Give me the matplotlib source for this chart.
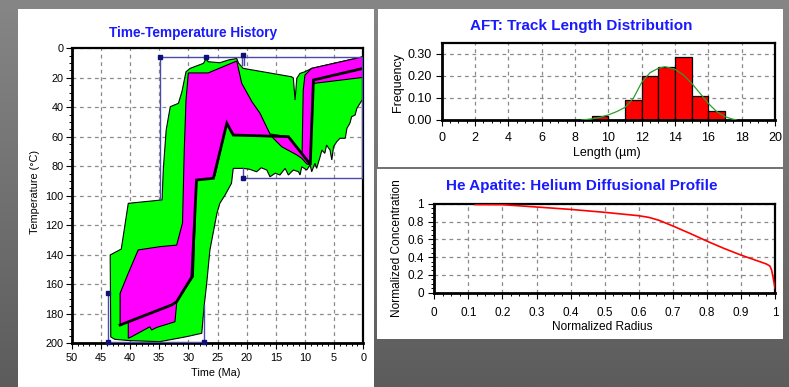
import numpy as np
import matplotlib
matplotlib.use("Agg")
import matplotlib.pyplot as plt
from matplotlib.patches import Polygon, Rectangle
from matplotlib.colors import LinearSegmentedColormap
from matplotlib.ticker import MultipleLocator, FormatStrFormatter, FuncFormatter

plt.rcParams['font.family'] = ['Liberation Sans', 'DejaVu Sans']

# ---------------- data ----------------
# Time-temperature envelopes: (time Ma, temperature degC) vertices
ACCEPTABLE_T = [43.3, 43.4, 41.5, 40.3, 34.5, 34.3, 33.8, 33.1, 31.7, 31.1, 30.4, 29.7,
                27.4, 27.0, 26.6, 24.6, 23.1, 21.7, 21.4, 20.6, 12.3, 12.0, 11.7, 11.4,
                10.85, 10.0, 8.85, 0.0, 0.0, 0.56, 1.1, 1.4, 2.0, 2.3, 2.8, 3.1, 4.0,
                4.55, 5.1, 5.4, 5.7, 6.3, 6.6, 7.1, 7.4, 8.0, 8.3, 8.85, 9.1, 9.7, 10.55,
                10.85, 11.1, 12.0, 12.85, 13.4, 14.3, 15.1, 16.0, 16.55, 17.5, 18.3, 19.5,
                20.6, 22.3, 22.6, 23.7, 24.6, 25.1, 26.3, 26.85, 27.3, 27.7, 30.3, 34.9,
                40.0, 42.6]
ACCEPTABLE_TEMP = [195.7, 140.1, 136.1, 105.1, 102.8, 82.5, 55.4, 39.6, 37.3, 29.4, 15.9, 13.6,
                   10.2, 7.2, 9.1, 9.8, 7.9, 6.9, 10.0, 13.6, 19.3, 20.1, 35.1, 20.3,
                   17.0, 15.9, 13.6, 5.7, 33.9, 37.3, 40.7, 45.2, 46.4, 50.8, 54.2, 61.0, 61.0,
                   63.3, 66.7, 75.7, 69.0, 65.6, 71.2, 69.0, 73.5, 81.4, 78.0, 83.7, 79.1, 82.5, 80.3,
                   85.9, 83.7, 82.5, 85.9, 81.4, 85.9, 84.7, 87.1, 82.5, 81.0, 83.7, 82.0,
                   81.4, 81.4, 91.5, 99.5, 105.1, 111.9, 136.7, 159.3, 175.2, 193.2, 195.5, 198.9,
                   198.2, 197.3]

GOOD_T = [41.7, 41.7, 40.3, 38.6, 34.9, 32.0, 31.0, 30.7, 30.4, 30.0, 26.6, 21.7,
          20.85, 19.1, 17.7, 16.0, 12.85, 10.5, 10.3, 10.0, 8.85, 0.0, 0.0, 8.3, 8.55,
          9.1, 9.7, 10.55, 11.4, 14.0, 15.8, 22.0, 22.6, 23.4, 25.4, 25.7, 28.6, 29.15,
          32.0, 32.0, 32.3, 35.4, 36.3, 36.6, 39.7, 40.3, 40.3]
GOOD_TEMP = [187.6, 166.1, 152.5, 136.7, 134.5, 133.4, 118.4, 69.0, 35.1, 16.7, 16.7, 8.6,
             23.7, 36.2, 44.1, 58.1, 59.9, 71.7, 28.3, 18.1, 13.6, 5.7, 19.7, 23.7, 23.7,
             79.1, 78.4, 74.6, 72.3, 66.7, 59.5, 58.8, 57.6, 50.8, 85.9, 88.1, 89.3, 154.9,
             171.8, 172.9, 185.4, 189.2, 191.0, 188.8, 195.5, 196.6, 185.6]

BEST_T = [41.7, 32.85, 32.0, 29.4, 28.6, 25.7, 23.4, 22.3, 12.85, 9.4, 9.1, 8.55, 0.0]
BEST_TEMP = [187.6, 174.0, 171.8, 154.9, 89.3, 88.1, 50.8, 58.8, 59.9, 77.1, 79.1, 21.5, 13.6]

# Constraint boxes (time Ma, temperature degC)
CONSTRAINT_PATHS = [
    [(34.8, 103.0), (34.8, 6.0), (0.15, 6.0), (0.15, 88.1), (20.6, 88.1), (20.6, 81.4)],
    [(20.8, 11.3), (20.8, 4.5), (20.45, 4.5), (20.45, 11.3)],
    [(43.7, 166.0), (43.7, 199.3), (27.3, 199.3), (27.3, 174.0)],
]
NODE_T = [34.8, 27.0, 20.6, 20.6, 43.7, 43.7, 27.3]
NODE_TEMP = [6.0, 6.0, 4.5, 88.1, 166.0, 199.3, 199.3]

# AFT track length histogram
LEN_BIN_LEFT = [9, 11, 12, 13, 14, 15, 16]
LEN_FREQ = [0.02, 0.09, 0.20, 0.24, 0.285, 0.11, 0.04]
MODEL_LEN = [8.4, 9.0, 9.5, 10.0, 10.5, 11.0, 11.5, 12.0, 12.5, 13.0, 13.4, 14.0,
             14.5, 15.0, 15.5, 16.0, 16.5, 17.0, 17.4, 17.7]
MODEL_FREQ = [0.0, 0.005, 0.012, 0.023, 0.038, 0.057, 0.098, 0.17, 0.214, 0.234, 0.241, 0.229,
              0.204, 0.166, 0.121, 0.075, 0.038, 0.015, 0.005, 0.0]

# He diffusion profile
RADIUS = [0.12, 0.2, 0.3, 0.4, 0.5, 0.6, 0.63, 0.66, 0.7, 0.75, 0.8, 0.85, 0.9, 0.95,
          0.975, 0.985, 0.99, 0.995, 1.0]
CONC = [0.99, 0.989, 0.963, 0.936, 0.903, 0.865, 0.846, 0.813, 0.75, 0.667, 0.58, 0.498,
        0.423, 0.356, 0.322, 0.30, 0.255, 0.16, 0.05]

# ---------------- figure ----------------
W, H = 789, 387
fig = plt.figure(figsize=(W / 100, H / 100), dpi=100)


def fx(px):
    return px / W


def fy(py):
    return 1 - py / H


bg = fig.add_axes([0, 0, 1, 1], zorder=-10)
grad = np.linspace(0, 1, 256).reshape(-1, 1)
bg.imshow(grad, aspect='auto', extent=[0, 1, 0, 1],
          cmap=LinearSegmentedColormap.from_list('bg', ['#868686', '#5c5c5c']))
for x0, y0, x1, y1 in [(18, 9, 374, 387), (378, 9, 783, 167), (377, 168.5, 783, 339)]:
    bg.add_patch(Rectangle((fx(x0), fy(y1)), fx(x1) - fx(x0), fy(y0) - fy(y1),
                           facecolor='white', edgecolor='none'))
bg.set_xlim(0, 1)
bg.set_ylim(0, 1)
bg.axis('off')

TITLE_COLOR = '#1a1aff'
GRID_KW = dict(linestyle=(0, (3, 3)), color='#8a8a8a', linewidth=0.9)


def style_axes(ax, fs, pad_x, pad_y, lw_main=2.0, lw_other=1.6):
    ax.set_axisbelow(True)
    ax.grid(True, which='major', **GRID_KW)
    for side in ['left', 'bottom']:
        ax.spines[side].set_linewidth(lw_main)
    for side in ['top', 'right']:
        ax.spines[side].set_linewidth(lw_other)
    ax.tick_params(which='major', direction='out', length=4.5, width=0.8, labelsize=fs,
                   top=False, right=False)
    ax.tick_params(which='minor', direction='out', length=2.2, width=0.7,
                   top=False, right=False)
    ax.tick_params(axis='x', which='major', pad=pad_x)
    ax.tick_params(axis='y', which='major', pad=pad_y)


# ---- Time-Temperature History ----
ax1 = fig.add_axes([fx(71.7), fy(343.3), fx(363.3) - fx(71.7), fy(48.3) - fy(343.3)])
ax1.set_xlim(50, 0)
ax1.set_ylim(200, 0)
ax1.xaxis.set_major_locator(MultipleLocator(5))
ax1.xaxis.set_minor_locator(MultipleLocator(1))
ax1.yaxis.set_major_locator(MultipleLocator(20))
ax1.yaxis.set_minor_locator(MultipleLocator(5))
style_axes(ax1, 7.8, 2.5, 1.5)

ax1.add_patch(Polygon(np.column_stack([ACCEPTABLE_T, ACCEPTABLE_TEMP]), closed=True,
                      facecolor='#00ff00', edgecolor='black', linewidth=0.8, zorder=2))
ax1.add_patch(Polygon(np.column_stack([GOOD_T, GOOD_TEMP]), closed=True,
                      facecolor='#ff00ff', edgecolor='black', linewidth=0.8, zorder=3))
ax1.plot(BEST_T, BEST_TEMP, color='black', linewidth=2.0, solid_joinstyle='miter', zorder=4)
for path in CONSTRAINT_PATHS:
    pts = np.array(path)
    ax1.plot(pts[:, 0], pts[:, 1], color='#4a4aa8', linewidth=1.0, zorder=5)
ax1.plot(NODE_T, NODE_TEMP, linestyle='none', marker='s', markersize=2.4,
         color='#10107a', zorder=6, clip_on=False)

fig.text(fx(193.5), fy(33.3), 'Time-Temperature History', color=TITLE_COLOR,
         fontsize=9.8, fontweight='bold', ha='center', va='center')
fig.text(fx(215.8), fy(372.7), 'Time (Ma)', fontsize=7.8, ha='center', va='center')
fig.text(fx(35), fy(192), 'Temperature (°C)', fontsize=7.8, ha='center', va='center',
         rotation=90)

# ---- AFT: Track Length Distribution ----
ax2 = fig.add_axes([fx(441.7), fy(120), fx(775) - fx(441.7), fy(43.3) - fy(120)])
ax2.set_xlim(0, 20)
ax2.set_ylim(0, 0.347)
ax2.xaxis.set_major_locator(MultipleLocator(2))
ax2.xaxis.set_minor_locator(MultipleLocator(0.5))
ax2.yaxis.set_major_locator(MultipleLocator(0.1))
ax2.yaxis.set_major_formatter(FormatStrFormatter('%.2f'))
style_axes(ax2, 9, 4.0, 2.5)
ax2.bar(LEN_BIN_LEFT, LEN_FREQ, width=1.0, align='edge', color='#ff0000',
        edgecolor='black', linewidth=0.9, zorder=2)
ax2.plot(MODEL_LEN, MODEL_FREQ, color='#2a9e2a', linewidth=0.9, zorder=3)

fig.text(fx(581.7), fy(26), 'AFT: Track Length Distribution', color=TITLE_COLOR,
         fontsize=11, fontweight='bold', ha='center', va='center')
fig.text(fx(606.7), fy(153.3), 'Length (µm)', fontsize=9, ha='center', va='center')
fig.text(fx(397.7), fy(82.5), 'Frequency', fontsize=9, ha='center', va='center',
         rotation=90)

# ---- He Apatite: Helium Diffusional Profile ----
ax3 = fig.add_axes([fx(434.3), fy(292.7), fx(775) - fx(434.3), fy(203.7) - fy(292.7)])
ax3.set_xlim(0, 1)
ax3.set_ylim(0, 1)
ax3.xaxis.set_major_locator(MultipleLocator(0.1))
ax3.xaxis.set_minor_locator(MultipleLocator(0.025))
ax3.yaxis.set_major_locator(MultipleLocator(0.2))
ax3.yaxis.set_minor_locator(MultipleLocator(0.05))
fmt = FuncFormatter(lambda v, _: f"{v:.1f}".rstrip('0').rstrip('.') if v else '0')
ax3.xaxis.set_major_formatter(fmt)
ax3.yaxis.set_major_formatter(fmt)
style_axes(ax3, 8.5, 5.5, 3.0)
ax3.plot(RADIUS, CONC, color='#ff0000', linewidth=1.2, zorder=3)

fig.text(fx(581.7), fy(185.7), 'He Apatite: Helium Diffusional Profile', color=TITLE_COLOR,
         fontsize=11, fontweight='bold', ha='center', va='center')
fig.text(fx(602.7), fy(326.7), 'Normalized Radius', fontsize=8.6, ha='center', va='center')
fig.text(fx(396.7), fy(247.7), 'Normalized Concentration', fontsize=8.6, ha='center',
         va='center', rotation=90)

fig.savefig('out.png', dpi=100)
